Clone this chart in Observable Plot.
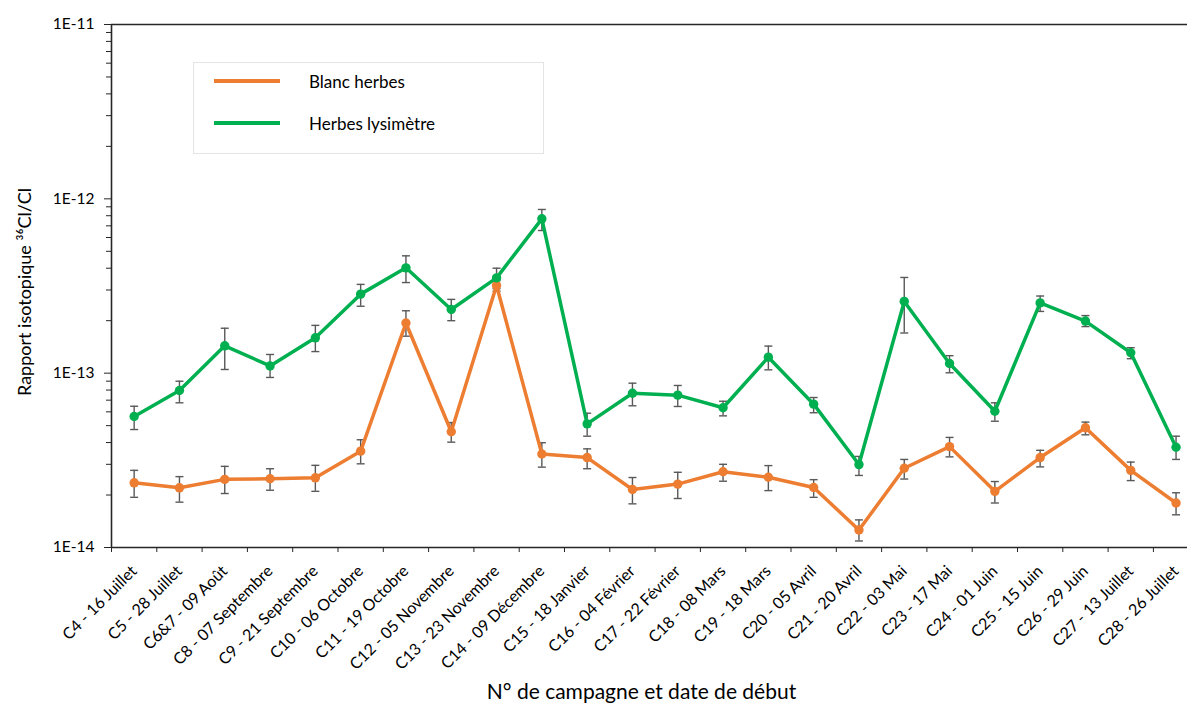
<!DOCTYPE html>
<html><head><meta charset="utf-8">
<script src="https://cdn.jsdelivr.net/npm/d3@7"></script>
<script src="https://cdn.jsdelivr.net/npm/@observablehq/plot@0.6"></script>
<style>
html,body{margin:0;padding:0;background:#fff;overflow:hidden;}
#wrap{position:relative;width:1187px;height:703px;}
#legend{position:absolute;left:193px;top:62px;width:351px;height:92px;border:1px solid #e4e4e4;box-sizing:border-box;font-family:Lato,sans-serif;font-size:17px;color:#000;background:#fff}
.item{position:absolute;left:20px;display:flex;align-items:center;height:20px}
.swatch{width:66px;height:4px;margin-right:29px}
</style></head><body><div id="wrap"><div id="chart"></div><div id="legend"></div></div>
<script>
// ---- Data ----
const campaigns = ["C4 - 16 Juillet","C5 - 28 Juillet","C6&7 - 09 Août","C8 - 07 Septembre","C9 - 21 Septembre","C10 - 06 Octobre","C11 - 19 Octobre","C12 - 05 Novembre","C13 - 23 Novembre","C14 - 09 Décembre","C15 - 18 Janvier","C16 - 04 Février","C17 - 22 Février","C18 - 08 Mars","C19 - 18 Mars","C20 - 05 Avril","C21 - 20 Avril","C22 - 03 Mai","C23 - 17 Mai","C24 - 01 Juin","C25 - 15 Juin","C26 - 29 Juin","C27 - 13 Juillet","C28 - 26 Juillet"];

const seriesNames = ["Blanc herbes","Herbes lysimètre"];
const seriesColors = ["#ED7D31","#00B050"];

const blanc   = [2.35e-14,2.20e-14,2.46e-14,2.48e-14,2.51e-14,3.57e-14,1.94e-13,4.61e-14,3.18e-13,3.44e-14,3.28e-14,2.15e-14,2.31e-14,2.72e-14,2.53e-14,2.21e-14,1.26e-14,2.85e-14,3.79e-14,2.10e-14,3.28e-14,4.86e-14,2.77e-14,1.80e-14];
const blancHi = [2.77e-14,2.55e-14,2.92e-14,2.83e-14,2.96e-14,4.15e-14,2.28e-13,5.21e-14,3.40e-13,3.99e-14,3.68e-14,2.52e-14,2.70e-14,3.00e-14,2.95e-14,2.45e-14,1.44e-14,3.20e-14,4.28e-14,2.39e-14,3.61e-14,5.24e-14,3.09e-14,2.06e-14];
const blancLo = [1.94e-14,1.82e-14,2.04e-14,2.13e-14,2.10e-14,3.02e-14,1.63e-13,4.02e-14,2.95e-13,2.89e-14,2.83e-14,1.78e-14,1.91e-14,2.40e-14,2.12e-14,1.94e-14,1.09e-14,2.47e-14,3.31e-14,1.80e-14,2.90e-14,4.43e-14,2.42e-14,1.54e-14];

const lysi   = [5.64e-14,7.95e-14,1.435e-13,1.10e-13,1.595e-13,2.84e-13,4.02e-13,2.32e-13,3.52e-13,7.68e-13,5.12e-14,7.67e-14,7.48e-14,6.33e-14,1.235e-13,6.64e-14,2.99e-14,2.58e-13,1.136e-13,6.05e-14,2.53e-13,1.99e-13,1.31e-13,3.76e-14];
const lysiHi = [6.46e-14,8.99e-14,1.81e-13,1.28e-13,1.88e-13,3.23e-13,4.71e-13,2.65e-13,4.00e-13,8.69e-13,5.89e-14,8.76e-14,8.50e-14,6.90e-14,1.43e-13,7.25e-14,3.33e-14,3.54e-13,1.26e-13,6.76e-14,2.77e-13,2.14e-13,1.40e-13,4.35e-14];
const lysiLo = [4.75e-14,6.76e-14,1.05e-13,9.45e-14,1.33e-13,2.42e-13,3.31e-13,2.00e-13,3.05e-13,6.58e-13,4.35e-14,6.50e-14,6.44e-14,5.69e-14,1.045e-13,5.93e-14,2.59e-14,1.70e-13,1.005e-13,5.30e-14,2.26e-13,1.85e-13,1.21e-13,3.20e-14];

const yTicks = [1e-14,1e-13,1e-12,1e-11];
const yTickLabels = ["1E-14","1E-13","1E-12","1E-11"];
const xTitle = "N° de campagne et date de début";
const yTitle = "Rapport isotopique ³⁶Cl/Cl";

// ---- Build rows ----
const rows = [];
[[blanc, blancLo, blancHi], [lysi, lysiLo, lysiHi]].forEach(([v, lo, hi], s) => {
  campaigns.forEach((c, i) => rows.push({pos: i + 0.5, campaign: c, series: seriesNames[s], value: v[i], lo: lo[i], hi: hi[i]}));
});
const caps = rows.flatMap(d => [{pos: d.pos, y: d.lo}, {pos: d.pos, y: d.hi}]);
const minorTicks = yTicks.slice(0, -1).flatMap(t => d3.range(2, 10).map(k => t * k));
const capSymbol = {draw(ctx) { ctx.moveTo(-4, 0); ctx.lineTo(4, 0); }};
const axisColor = "#262626";
const errColor = "#595959";
const n = campaigns.length;

const chart = Plot.plot({
  width: 1187, height: 703,
  marginLeft: 111, marginRight: 0, marginTop: 24, marginBottom: 156,
  style: {fontFamily: "Lato, sans-serif", fontSize: "15px", color: "#000", background: "#fff", overflow: "hidden"},
  x: {type: "linear", domain: [0, n], range: [111, 111 + 45.3 * n]},
  y: {type: "log", domain: [yTicks[0], yTicks[yTicks.length - 1]]},
  color: {domain: seriesNames, range: seriesColors},
  marks: [
    Plot.axisY(minorTicks, {tickSize: 5, tickFormat: () => "", stroke: axisColor, label: null}),
    Plot.axisY(yTicks, {tickSize: 7, tickPadding: 10, tickFormat: d => yTickLabels[yTicks.indexOf(d)], stroke: axisColor, label: null, fontSize: 15.5}),
    Plot.axisX(d3.range(n + 1), {tickSize: 5, tickFormat: () => "", stroke: axisColor, label: null}),
    Plot.axisX(d3.range(n).map(i => i + 0.5), {tickSize: 0, tickPadding: 21, tickRotate: -45, tickFormat: d => campaigns[Math.floor(d)], label: null, fontSize: 16}),
    Plot.ruleY([yTicks[0]], {stroke: axisColor, strokeWidth: 1.6}),
    Plot.ruleY([yTicks[yTicks.length - 1]], {stroke: axisColor, strokeWidth: 1.6}),
    Plot.ruleX([0], {stroke: axisColor, strokeWidth: 1.6}),
    Plot.text([yTitle], {frameAnchor: "left", dx: -86, dy: 6, rotate: -90, textAnchor: "middle", fontSize: 18, text: d => d, fill: "#000"}),
    Plot.text([xTitle], {frameAnchor: "bottom", dx: -8, dy: 151, fontSize: 21, text: d => d, fill: "#000"}),
    Plot.ruleX(rows, {x: "pos", y1: "lo", y2: "hi", stroke: errColor, strokeWidth: 1.4}),
    Plot.dot(caps, {x: "pos", y: "y", symbol: capSymbol, stroke: errColor, strokeWidth: 1.4, r: 4}),
    Plot.line(rows, {x: "pos", y: "value", z: "series", stroke: "series", strokeWidth: 3.5}),
    Plot.dot(rows, {x: "pos", y: "value", fill: "series", r: 4.7})
  ]
});
document.getElementById("chart").append(chart);

const legend = document.getElementById("legend");
seriesNames.forEach((name, s) => {
  const item = document.createElement("div");
  item.className = "item";
  item.style.top = (8 + s * 42) + "px";
  const sw = document.createElement("div");
  sw.className = "swatch";
  sw.style.background = seriesColors[s];
  const lab = document.createElement("span");
  lab.textContent = name;
  item.append(sw, lab);
  legend.append(item);
});
</script></body></html>
